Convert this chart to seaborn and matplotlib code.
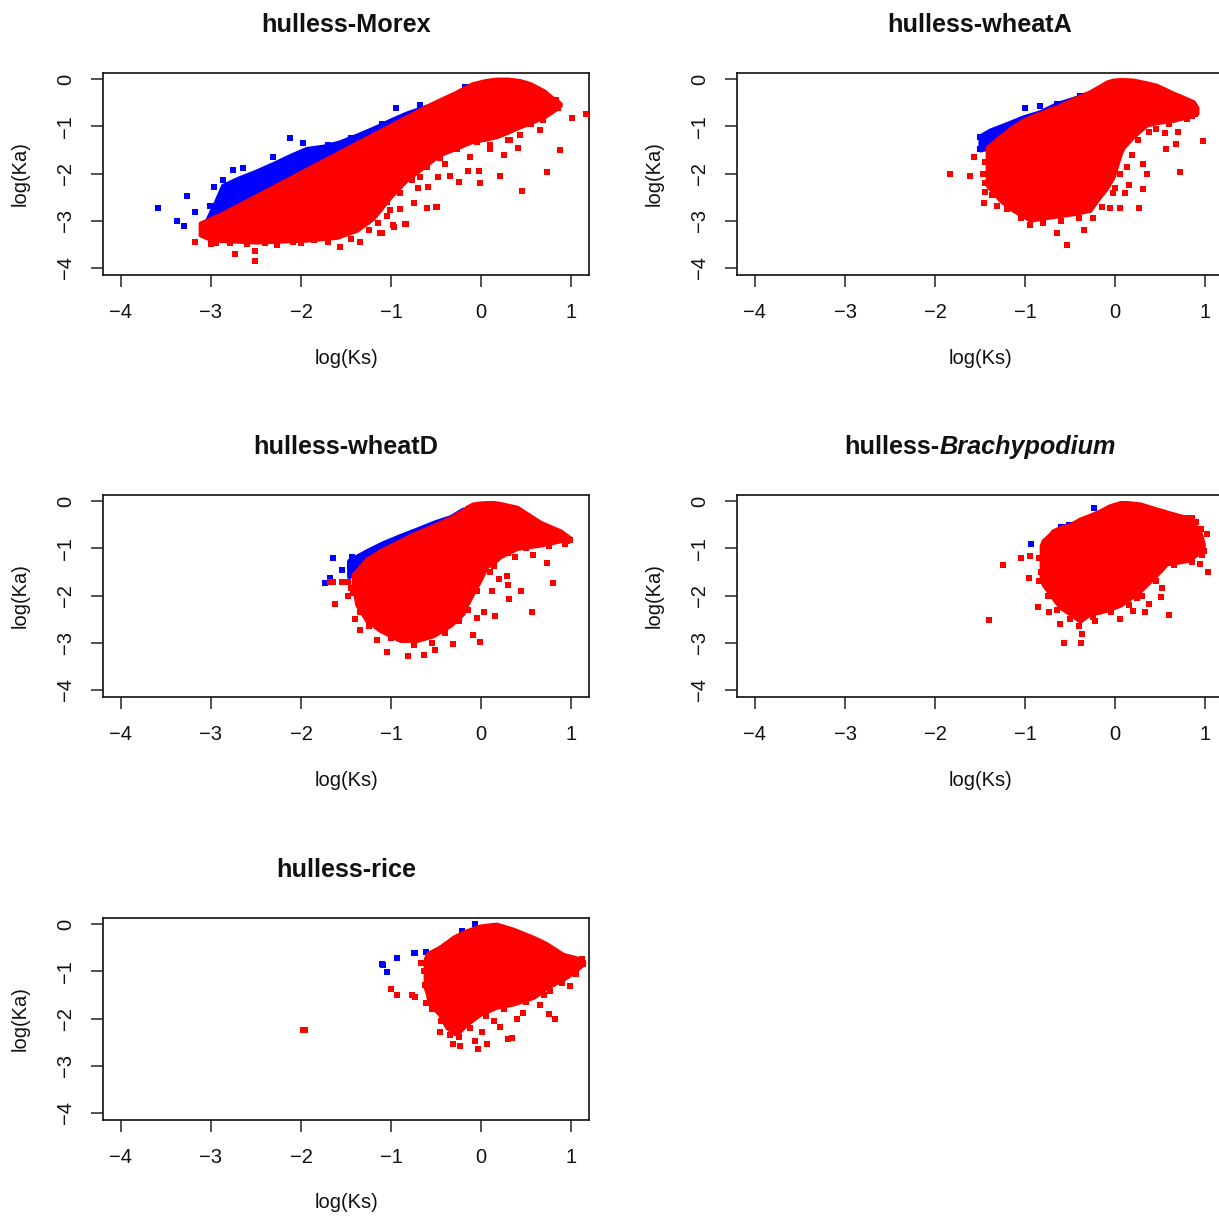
import matplotlib
matplotlib.use("Agg")
import matplotlib.pyplot as plt
import numpy as np
import pandas as pd
import seaborn as sns
from matplotlib.offsetbox import TextArea, HPacker, AnchoredOffsetbox

# ---------------- data (log(Ks), log(Ka)) ----------------
TITLES = ["hulless-Morex", "hulless-wheatA", "hulless-wheatD",
          "hulless-Brachypodium", "hulless-rice"]
X_TICKS = [-4, -3, -2, -1, 0, 1]
Y_TICKS = [0, -1, -2, -3, -4]

# dense red cores: Ks grid, upper and lower Ka edge
MOREX_CORE_KS = [-3.12, -3.0, -2.87, -2.5, -2.2, -1.94, -1.6, -1.38, -1.2, -1.01, -0.83, -0.64,
                 -0.46, -0.3, -0.2, -0.1, 0.05, 0.17, 0.3, 0.43, 0.55, 0.7, 0.78, 0.84, 0.88]
MOREX_CORE_HI = [-3.05, -2.95, -2.84, -2.47, -2.17, -1.91, -1.57, -1.35, -1.17, -0.98, -0.8, -0.61,
                 -0.44, -0.3, -0.2, -0.1, -0.03, 0.0, 0.0, -0.03, -0.1, -0.25, -0.38, -0.45, -0.52]
MOREX_CORE_LO = [-3.3, -3.4, -3.42, -3.45, -3.43, -3.41, -3.35, -3.2, -2.95, -2.5, -2.14, -1.86,
                 -1.6, -1.48, -1.4, -1.32, -1.27, -1.22, -1.12, -1.01, -0.92, -0.8, -0.7, -0.62, -0.55]
MOREX_BAND_KS = [-3.05, -2.95, -2.87, -2.7, -2.5, -2.3, -2.1, -1.94, -1.75, -1.57, -1.4, -1.2,
                 -1.01, -0.83, -0.57, -0.35, -0.2]
MOREX_BAND_HI = [-3.0, -2.6, -2.25, -2.1, -1.95, -1.78, -1.6, -1.47, -1.42, -1.33, -1.2, -1.04,
                 -0.87, -0.72, -0.55, -0.38, -0.25]
MOREX_BAND_LO = [-3.1, -3.1, -3.0, -2.85, -2.65, -2.45, -2.25, -2.1, -1.9, -1.75, -1.55, -1.35,
                 -1.15, -0.95, -0.7, -0.5, -0.35]
MOREX_RED = [(1.01, -0.83), (1.17, -0.73), (0.88, -1.50), (0.73, -1.96), (0.45, -2.36), (0.21, -2.06),
             (-0.01, -2.21), (-0.02, -1.94), (-0.15, -1.94), (-0.12, -1.66), (0.26, -1.61), (0.41, -1.45),
             (-0.24, -2.17), (-0.34, -2.06), (-0.48, -2.07), (-0.59, -2.29), (-0.5, -2.70), (-0.6, -2.72),
             (-0.84, -3.06), (-0.97, -3.13), (-1.10, -3.26), (-0.75, -2.63), (0.66, -1.08), (0.69, -0.87),
             (-3.18, -3.45), (-3.10, -3.24), (-2.73, -3.71), (-2.51, -3.86), (-2.51, -3.64), (-2.27, -3.52),
             (-1.86, -3.41), (-1.57, -3.55), (-1.34, -3.45), (-1.12, -3.27), (-0.98, -3.09), (-0.83, -3.06),
             (-0.49, -2.70), (-0.68, -2.07), (-2.94, -3.48), (-2.79, -3.48), (-2.09, -3.45),
             (0.75, -0.65), (0.8, -0.55), (0.55, -0.95), (0.3, -1.3), (0.1, -1.4), (-0.4, -1.8),
             (-0.7, -2.3), (-0.9, -2.75), (-1.05, -2.9),
             (-3.0, -3.5), (-2.6, -3.5), (-2.4, -3.48), (-2.0, -3.47), (-1.7, -3.45), (-1.45, -3.38),
             (-1.25, -3.2), (-1.15, -3.05), (0.1, -1.47), (-0.05, -1.33), (-0.27, -1.47), (-0.46, -1.68),
             (-0.6, -1.86), (-0.77, -2.14), (-0.9, -2.42), (-1.01, -2.78), (-1.05, -2.6), (0.43, -1.19),
             (0.32, -1.29), (0.86, -0.62), (0.83, -0.45)]
MOREX_BLUE = [(-3.59, -2.73), (-3.38, -3.01), (-3.30, -3.11), (-3.27, -2.48), (-3.18, -2.81),
              (-3.01, -2.69), (-2.97, -2.29), (-2.87, -2.14), (-2.76, -1.93), (-2.65, -1.89),
              (-2.12, -1.25), (-2.31, -1.65), (-1.98, -1.36), (-0.94, -0.61), (-0.68, -0.55),
              (-0.18, -0.17), (-1.7, -1.4), (-1.45, -1.25), (-1.1, -0.95)]

WHEATA_CORE_KS = [-1.42, -1.35, -1.28, -1.13, -1.02, -0.94, -0.83, -0.72, -0.65, -0.46, -0.28, -0.17,
                  -0.09, -0.02, 0.06, 0.09, 0.2, 0.35, 0.46, 0.65, 0.8, 0.87, 0.91]
WHEATA_CORE_HI = [-1.45, -1.33, -1.22, -1.0, -0.87, -0.8, -0.72, -0.63, -0.59, -0.42, -0.27, -0.15,
                  -0.06, -0.02, -0.01, -0.01, -0.02, -0.08, -0.13, -0.3, -0.42, -0.48, -0.6]
WHEATA_CORE_LO = [-2.25, -2.4, -2.56, -2.78, -2.9, -2.99, -2.95, -2.92, -2.9, -2.85, -2.78, -2.49,
                  -2.3, -2.07, -1.57, -1.45, -1.22, -0.97, -0.92, -0.87, -0.8, -0.75, -0.72]
WHEATA_BAND_KS = [-1.5, -1.39, -1.2, -1.02, -0.83, -0.65, -0.45, -0.35]
WHEATA_BAND_HI = [-1.2, -1.08, -0.94, -0.8, -0.69, -0.52, -0.4, -0.32]
WHEATA_BAND_LO = [-1.5, -1.45, -1.3, -1.1, -0.9, -0.75, -0.55, -0.45]
WHEATA_RED = [(-1.83, -2.01), (-1.61, -2.06), (-1.57, -1.66), (-1.44, -2.21), (-1.46, -2.63), (-1.31, -2.69),
              (-1.37, -2.46), (-0.94, -3.09), (-0.65, -3.25), (-0.53, -3.52), (-0.34, -3.2), (-0.24, -2.95),
              (0.06, -2.72), (0.27, -2.72), (-0.06, -2.72), (-0.02, -2.42), (0.11, -2.42), (0.15, -2.25),
              (0.31, -2.33), (0.35, -2.0), (0.31, -1.79), (0.72, -1.96), (0.57, -1.47), (0.68, -1.38),
              (0.98, -1.31), (0.56, -1.14), (0.7, -1.12), (0.38, -1.12), (0.19, -1.61), (0.13, -1.86),
              (0.89, -0.73),
              (-1.2, -2.75), (-1.05, -2.95), (-0.8, -3.05), (-0.6, -3.0), (-0.4, -2.95), (-0.15, -2.7),
              (0.0, -2.3), (0.05, -2.0), (0.25, -1.3), (0.45, -1.05), (0.6, -0.95), (0.8, -0.85),
              (0.85, -0.78), (-1.45, -1.75), (-1.47, -2.0), (-1.44, -2.4)]
WHEATA_BLUE = [(-1.5, -1.22), (-1.5, -1.47), (-1.37, -1.26), (-1.33, -1.12), (-1.0, -0.62),
               (-0.83, -0.57), (-0.65, -0.52), (-0.54, -0.50), (-0.39, -0.36)]

WHEATD_CORE_KS = [-1.42, -1.38, -1.27, -1.12, -0.9, -0.71, -0.53, -0.34, -0.2, -0.16, -0.09, -0.01,
                  0.06, 0.14, 0.21, 0.4, 0.66, 0.88, 0.99]
WHEATD_CORE_HI = [-1.55, -1.47, -1.23, -1.05, -0.84, -0.66, -0.52, -0.35, -0.2, -0.13, -0.06, -0.04,
                  -0.03, -0.03, -0.05, -0.13, -0.45, -0.63, -0.78]
WHEATD_CORE_LO = [-1.75, -2.19, -2.53, -2.74, -2.95, -2.95, -2.85, -2.63, -2.38, -2.2, -1.95, -1.67,
                  -1.39, -1.3, -1.18, -1.0, -0.93, -0.84, -0.8]
WHEATD_BAND_KS = [-1.47, -1.27, -1.09, -0.9, -0.71, -0.53, -0.34, -0.2]
WHEATD_BAND_HI = [-1.26, -1.05, -0.88, -0.73, -0.59, -0.45, -0.33, -0.17]
WHEATD_BAND_LO = [-1.6, -1.35, -1.15, -0.95, -0.78, -0.62, -0.45, -0.3]
WHEATD_RED = [(-1.64, -1.72), (-1.68, -1.72), (-1.55, -1.72), (-1.48, -1.72), (-1.62, -2.19), (-1.42, -1.94),
              (-1.4, -2.5), (-1.34, -2.74), (-1.16, -2.95), (-1.05, -3.19), (-0.81, -3.28), (-0.63, -3.27),
              (-0.51, -3.15), (-0.31, -3.02), (-0.09, -2.83), (-0.01, -2.99), (-0.05, -2.48), (0.16, -2.43),
              (0.31, -2.08), (0.57, -2.35), (0.44, -1.9), (0.30, -1.77), (0.20, -1.65), (0.29, -1.58),
              (0.12, -1.90), (0.8, -1.74), (0.73, -1.32), (0.38, -1.18), (0.58, -1.14), (0.93, -0.91),
              (0.99, -0.82), (0.14, -1.37), (0.03, -2.34),
              (-1.35, -2.35), (-1.25, -2.65), (-1.0, -2.9), (-0.75, -3.05), (-0.55, -3.0), (-0.4, -2.8),
              (-0.25, -2.55), (-0.15, -2.3), (-0.05, -1.9), (0.1, -1.5), (0.3, -1.1), (0.5, -1.0),
              (0.75, -0.95), (0.95, -0.85), (-1.45, -1.85), (-1.48, -2.0)]
WHEATD_BLUE = [(-1.73, -1.74), (-1.68, -1.62), (-1.64, -1.21), (-1.55, -1.46), (-1.46, -1.37),
               (-1.43, -1.18), (-1.33, -1.25)]

BRACHY_CORE_KS = [-0.82, -0.8, -0.72, -0.69, -0.61, -0.5, -0.39, -0.28, -0.17, -0.06, 0.06, 0.13,
                  0.28, 0.43, 0.54, 0.57, 0.8, 0.94, 0.98]
BRACHY_CORE_HI = [-0.95, -0.84, -0.7, -0.63, -0.56, -0.5, -0.38, -0.3, -0.21, -0.1, -0.03, -0.03,
                  -0.06, -0.15, -0.21, -0.23, -0.35, -0.63, -0.9]
BRACHY_CORE_LO = [-1.6, -1.76, -1.97, -2.05, -2.25, -2.39, -2.54, -2.39, -2.35, -2.29, -2.2, -2.11,
                  -1.9, -1.62, -1.4, -1.33, -1.26, -1.09, -1.0]
BRACHY_RED = [(-1.40, -2.52), (-1.24, -1.36), (-1.04, -1.21), (-0.95, -1.17), (-0.96, -1.62), (-0.85, -1.70),
              (-0.86, -2.25), (-0.73, -2.35), (-0.61, -2.61), (-0.57, -3.01), (-0.38, -3.01), (-0.37, -2.82),
              (-0.22, -2.54), (0.06, -2.5), (0.20, -2.32), (0.33, -2.35), (0.38, -2.17), (0.52, -1.85),
              (0.51, -2.04), (0.6, -2.41), (0.24, -2.06), (1.03, -1.50), (0.94, -1.33), (0.99, -1.05),
              (0.96, -0.59), (1.02, -0.70), (0.8, -0.35),
              (-0.82, -1.5), (-0.84, -1.2), (-0.75, -2.0), (-0.65, -2.3), (-0.5, -2.5), (-0.4, -2.65),
              (-0.25, -2.45), (-0.05, -2.35), (0.15, -2.2), (0.3, -2.0), (0.45, -1.7), (0.65, -1.35),
              (0.85, -1.3), (0.97, -1.15), (0.9, -0.45), (0.85, -0.35)]
BRACHY_BLUE = [(-0.93, -0.91), (-0.6, -0.54), (-0.57, -0.54), (-0.51, -0.50), (-0.23, -0.15)]

RICE_CORE_KS = [-0.62, -0.6, -0.57, -0.46, -0.38, -0.31, -0.27, -0.16, -0.01, 0.17, 0.36, 0.58,
                0.66, 0.73, 0.91, 1.03, 1.1, 1.14]
RICE_CORE_HI = [-0.75, -0.64, -0.6, -0.49, -0.38, -0.28, -0.24, -0.14, -0.04, 0.0, -0.11, -0.28,
                -0.35, -0.42, -0.64, -0.7, -0.74, -0.78]
RICE_CORE_LO = [-1.34, -1.45, -1.69, -1.91, -2.19, -2.3, -2.33, -2.12, -1.91, -1.76, -1.69, -1.55,
                -1.45, -1.34, -1.17, -1.02, -0.9, -0.84]
RICE_RED = [(-1.98, -2.25), (-1.96, -2.25), (-1.0, -1.38), (-0.93, -1.50), (-0.77, -1.50), (-0.73, -1.54),
            (-0.67, -0.83), (-0.61, -1.68), (-0.53, -1.69), (-0.46, -2.29), (-0.31, -2.53), (-0.23, -2.58),
            (-0.07, -2.48), (-0.03, -2.65), (0.07, -2.53), (0.01, -2.29), (0.14, -2.05), (0.21, -2.19),
            (0.3, -2.44), (0.34, -2.42), (0.47, -1.89), (0.4, -2.01), (0.76, -1.91), (0.82, -2.01),
            (0.99, -1.31), (0.77, -1.41), (0.79, -1.27), (0.66, -1.71), (1.12, -0.74),
            (-0.63, -1.0), (-0.62, -1.3), (-0.55, -1.8), (-0.45, -2.05), (-0.35, -2.35), (-0.25, -2.4),
            (-0.12, -2.2), (0.05, -1.95), (0.25, -1.8), (0.5, -1.65), (0.7, -1.5), (0.9, -1.25),
            (1.05, -1.05), (1.13, -0.85)]
RICE_BLUE = [(-0.07, 0.01), (-0.21, -0.14), (-0.61, -0.58), (-0.75, -0.62), (-0.73, -0.62),
             (-0.93, -0.71), (-1.09, -0.86), (-1.05, -1.02), (-1.1, -0.84)]

# ---------------- styling / layout ----------------
RED = "#FF0000"
BLUE = "#0000FF"

sns.set_style("ticks")
plt.rcParams["font.family"] = ["Liberation Sans", "DejaVu Sans"]

FIG_W, FIG_H = 1219, 1216
fig = plt.figure(figsize=(FIG_W / 100, FIG_H / 100), dpi=100)

AX_W = 486 / FIG_W
AX_H = 202 / FIG_H
LEFTS = [103 / FIG_W, 737 / FIG_W]
BOTTOMS = [1 - 275 / FIG_H, 1 - 697 / FIG_H, 1 - 1120 / FIG_H]

panels = [
    dict(title=TITLES[0], pos=(0, 0), core=(MOREX_CORE_KS, MOREX_CORE_HI, MOREX_CORE_LO),
         band=(MOREX_BAND_KS, MOREX_BAND_HI, MOREX_BAND_LO), red=MOREX_RED, blue=MOREX_BLUE),
    dict(title=TITLES[1], pos=(1, 0), core=(WHEATA_CORE_KS, WHEATA_CORE_HI, WHEATA_CORE_LO),
         band=(WHEATA_BAND_KS, WHEATA_BAND_HI, WHEATA_BAND_LO), red=WHEATA_RED, blue=WHEATA_BLUE),
    dict(title=TITLES[2], pos=(0, 1), core=(WHEATD_CORE_KS, WHEATD_CORE_HI, WHEATD_CORE_LO),
         band=(WHEATD_BAND_KS, WHEATD_BAND_HI, WHEATD_BAND_LO), red=WHEATD_RED, blue=WHEATD_BLUE),
    dict(title=TITLES[3], pos=(1, 1), core=(BRACHY_CORE_KS, BRACHY_CORE_HI, BRACHY_CORE_LO),
         band=None, red=BRACHY_RED, blue=BRACHY_BLUE),
    dict(title=TITLES[4], pos=(0, 2), core=(RICE_CORE_KS, RICE_CORE_HI, RICE_CORE_LO),
         band=None, red=RICE_RED, blue=RICE_BLUE),
]

TICK_FS = 14.5
LABEL_FS = 14.5
TITLE_FS = 18.2
MARK_S = 22
TITLE_Y = 1 + 48 / 202

for p in panels:
    c, r = p["pos"]
    ax = fig.add_axes([LEFTS[c], BOTTOMS[r], AX_W, AX_H])

    if p["band"] is not None:
        bks, bhi, blo = p["band"]
        ax.fill_between(bks, blo, bhi, facecolor=BLUE, edgecolor=BLUE, linewidth=3.0, zorder=2)
    bdf = pd.DataFrame(p["blue"], columns=["ks", "ka"])
    sns.scatterplot(data=bdf, x="ks", y="ka", color=BLUE, marker="s", s=MARK_S,
                    linewidth=0, ax=ax, zorder=3)

    cks, chi, clo = p["core"]
    ax.fill_between(cks, clo, chi, facecolor=RED, edgecolor=RED, linewidth=3.0, zorder=4)
    rdf = pd.DataFrame(p["red"], columns=["ks", "ka"])
    sns.scatterplot(data=rdf, x="ks", y="ka", color=RED, marker="s", s=MARK_S,
                    linewidth=0, ax=ax, zorder=5)

    ax.set_xlim(-4.2, 1.2)
    ax.set_ylim(-4.15, 0.13)
    ax.set_xticks(X_TICKS)
    ax.set_yticks(Y_TICKS)
    ax.set_xticklabels([f"{v:d}".replace("-", "\u2212") for v in X_TICKS])
    ax.set_yticklabels([f"{v:d}".replace("-", "\u2212") for v in Y_TICKS])
    ax.tick_params(direction="out", length=8.6, width=1.1, color="#222222",
                   pad=11.5, labelsize=TICK_FS, labelcolor="#111111")
    for lab in ax.get_yticklabels():
        lab.set_rotation(90)
        lab.set_va("center")
    for sp in ax.spines.values():
        sp.set_visible(True)
        sp.set_linewidth(1.2)
        sp.set_color("#111111")

    ax.set_xlabel("log(Ks)", fontsize=LABEL_FS, color="#111111")
    ax.set_ylabel("log(Ka)", fontsize=LABEL_FS, color="#111111")
    ax.xaxis.set_label_coords(0.5, -(358 - 275) / 202)
    ax.xaxis.label.set_va("center")
    ax.yaxis.set_label_coords(-(103 - 20) / 486, 0.5)
    ax.yaxis.label.set_va("center")

    if p["title"] == "hulless-Brachypodium":
        ta1 = TextArea("hulless-", textprops=dict(fontsize=TITLE_FS, fontweight="bold", color="#111111"))
        ta2 = TextArea("Brachypodium", textprops=dict(fontsize=TITLE_FS, fontweight="bold",
                                                       fontstyle="italic", color="#111111"))
        box = HPacker(children=[ta1, ta2], align="baseline", pad=0, sep=0)
        ab = AnchoredOffsetbox(loc="center", child=box, frameon=False, pad=0, borderpad=0,
                               bbox_to_anchor=(0.5, TITLE_Y), bbox_transform=ax.transAxes)
        ax.add_artist(ab)
    else:
        ax.text(0.5, TITLE_Y, p["title"], transform=ax.transAxes, ha="center", va="center",
                fontsize=TITLE_FS, fontweight="bold", color="#111111")

fig.savefig("out.png", dpi=100)
